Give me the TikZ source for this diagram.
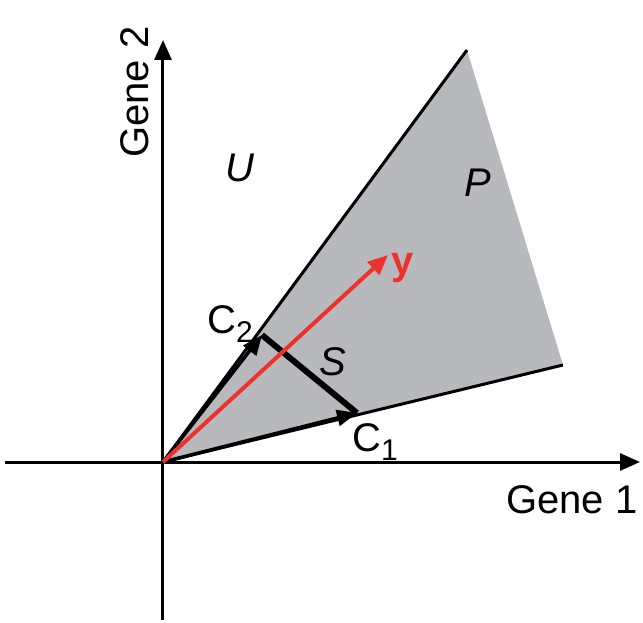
\documentclass[tikz,border=0pt]{standalone}
\usepackage{fontspec}
\setmainfont{Liberation Sans}
\usetikzlibrary{arrows.meta,positioning,calc}
\definecolor{conegray}{RGB}{184,185,189}
\definecolor{yred}{RGB}{237,50,45}

\begin{document}
\begin{tikzpicture}[x=1pt,y=1pt,>={Triangle[length=20pt,width=17pt]},
  lbl/.style={font=\fontsize{40}{44}\selectfont,inner sep=0pt}]
  \useasboundingbox (-163,-160) rectangle (480,462);
  \coordinate (O) at (0,0);
  \coordinate (A) at (304,412);
  \coordinate (B) at (400,97);
  \coordinate (c2) at (99,127);
  \coordinate (c1) at (194,49);
  \coordinate (ytip) at (225,207);
  \fill[conegray] (O) -- (A) -- (B) -- cycle;
  \draw[line width=3pt] (O) -- (A);
  \draw[line width=3pt] (O) -- (B);
  \draw[line width=3pt,->] (-158,0) -- (477,0);
  \draw[line width=3pt,->] (0,-158) -- (0,422);
  \draw[line width=6pt] (c2) -- (c1);
  \draw[line width=3.5pt,->,>={Triangle[length=20pt,width=16pt]}] (O) -- (c2);
  \draw[line width=3.5pt,->,>={Triangle[length=20pt,width=16pt]}] (O) -- (c1);
  \draw[line width=4pt,yred,->,>={Triangle[length=20pt,width=17pt]}] (O) -- (ytip);
  \node[lbl] (U) at (77,294) {\itshape U};
  \node[lbl] (P) at (315,279) {\itshape P};
  \node[lbl] (S) at (170,100) {\itshape S};
  \node[lbl,yred] (ylab) at (240,194) {\bfseries y};
  \node[lbl] (C2) at (67,138) {C\raisebox{-9pt}{\fontsize{30}{32}\selectfont 2}};
  \node[lbl] (C1) at (212,20) {C\raisebox{-9pt}{\fontsize{30}{32}\selectfont 1}};
  \node[lbl] (g1) at (409,-38) {Gene 1};
  \node[lbl,rotate=90] (g2) at (-28,370) {Gene 2};
\end{tikzpicture}
\end{document}
